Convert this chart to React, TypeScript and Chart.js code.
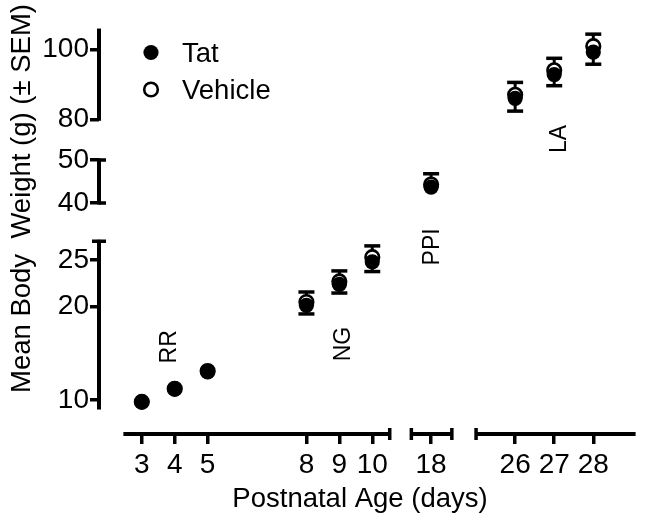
import React, { useEffect, useRef } from 'react';
import { Chart, registerables } from 'chart.js';

Chart.register(...registerables);

// ---------- data ----------
const days = [3, 4, 5, 8, 9, 10, 18, 26, 27, 28];
// which broken-axis segment each day belongs to (0: days 3-10, 1: day 18, 2: days 26-28)
const daySegment = [0, 0, 0, 0, 0, 0, 1, 2, 2, 2];
const tatWeight = [9.8, 11.2, 13.0, 20.15, 22.4, 24.8, 43.7, 86.0, 92.8, 99.2];
const tatSem = [0.3, 0.3, 0.4, 0.93, 0.94, 1.04, 1.2, 3.66, 3.2, 3.46];
const vehicleWeight = [9.8, 11.2, 13.1, 20.5, 22.7, 25.3, 44.3, 87.0, 94.0, 100.9];
const vehicleSem = [0.3, 0.3, 0.4, 1.07, 1.13, 1.21, 2.5, 3.54, 3.43, 3.43];
const seriesNames = ['Tat', 'Vehicle'];

const xTickSets = [[3, 4, 5, 8, 9, 10], [18], [26, 27, 28]];
const yTickSets = [[10, 20, 25], [40, 50], [80, 100]];

const xTitle = 'Postnatal Age (days)';
const yTitle = 'Mean Body  Weight (g) (\u00B1 SEM)';

const annotationTexts = ['RR', 'NG', 'PPI', 'LA'];
const annotationDays = [3.85, 9.14, 18.04, 27.15];
const annotationWeights = [15.7, 16.0, 26.4, 74.4];
const annotationXSeg = [0, 0, 1, 2];
const annotationYSeg = [0, 0, 0, 2];

// ---------- layout / style config ----------
const FONT = "'Liberation Sans', Arial, Helvetica, sans-serif";
const xRanges = [[1.7, 10.862], [17.075, 18.98], [24.675, 29.083]];
const xWeights = [303, 63, 173];
const yRanges = [[6.357, 29.07], [35.58, 54.65], [74.09, 108.37]];
const yWeights = [212, 82, 120];
const xLineSpans = [[2.44, 10.53], [17.4, 18.63], [25.0, 29.083]];
const yLineSpans = [[9.14, 27.0], [40, 50], [80, 105.5]];
// error bar direction per series: Tat shown below, Vehicle shown above
const errDirection = [-1, 1];

export default function App() {
  const ref = useRef<HTMLCanvasElement>(null);

  useEffect(() => {
    document.body.style.margin = '0';
    const canvas = ref.current;
    if (!canvas) return;

    const datasets: any[] = [];
    const series = [
      { name: seriesNames[0], values: tatWeight, sem: tatSem, bg: '#000', border: '#000', r: 7.6, bw: 0 },
      { name: seriesNames[1], values: vehicleWeight, sem: vehicleSem, bg: '#fff', border: '#000', r: 6.8, bw: 2.6 },
    ];
    series.forEach((s, si) => {
      for (let seg = 0; seg < 3; seg++) {
        const idx = days.map((_, i) => i).filter((i) => daySegment[i] === seg);
        datasets.push({
          label: s.name,
          data: idx.map((i) => ({ x: days[i], y: s.values[i] })),
          semValues: idx.map((i) => s.sem[i]),
          errDir: errDirection[si],
          symbolRadius: s.r + s.bw / 2,
          xAxisID: 'x' + seg,
          yAxisID: 'y' + seg,
          pointRadius: s.r,
          pointHoverRadius: s.r,
          pointBackgroundColor: s.bg,
          pointBorderColor: s.border,
          pointBorderWidth: s.bw,
          showLine: false,
        });
      }
    });

    const scales: any = {};
    for (let seg = 0; seg < 3; seg++) {
      scales['x' + seg] = {
        type: 'linear',
        position: 'bottom',
        stack: 'xstack',
        stackWeight: xWeights[seg],
        weight: seg + 1,
        min: xRanges[seg][0],
        max: xRanges[seg][1],
        bounds: 'data',
        afterBuildTicks: (s: any) => {
          s.ticks = xTickSets[seg].map((v) => ({ value: v }));
        },
        afterFit: (s: any) => {
          s.height = 92;
          s.paddingLeft = 0;
          s.paddingRight = 0;
          s.paddingTop = 0;
          s.paddingBottom = 0;
        },
        grid: { display: true, drawOnChartArea: false, drawTicks: true, tickLength: 10, lineWidth: 3.5, color: '#000', tickColor: '#000' },
        border: { display: false },
        ticks: { color: '#000', font: { size: 28, family: FONT }, padding: 4, maxRotation: 0, minRotation: 0, autoSkip: false },
      };
      scales['y' + seg] = {
        type: 'linear',
        position: 'left',
        stack: 'ystack',
        stackWeight: yWeights[seg],
        weight: seg + 1,
        min: yRanges[seg][0],
        max: yRanges[seg][1],
        bounds: 'data',
        afterBuildTicks: (s: any) => {
          s.ticks = yTickSets[seg].map((v) => ({ value: v }));
        },
        afterFit: (s: any) => {
          s.width = 99;
          s.paddingLeft = 0;
          s.paddingRight = 0;
          s.paddingTop = 0;
          s.paddingBottom = 0;
        },
        grid: { display: true, drawOnChartArea: false, drawTicks: true, tickLength: 9, lineWidth: 3.5, color: '#000', tickColor: '#000' },
        border: { display: false },
        ticks: { color: '#000', font: { size: 28, family: FONT }, padding: 1, autoSkip: false },
      };
    }

    const decorations = {
      id: 'decorations',
      beforeDatasetsDraw(chart: any) {
        const ctx = chart.ctx;
        ctx.save();
        ctx.strokeStyle = '#000';
        chart.data.datasets.forEach((ds: any) => {
          const xs = chart.scales[ds.xAxisID];
          const ys = chart.scales[ds.yAxisID];
          ds.data.forEach((p: any, k: number) => {
            const sem = ds.semValues[k];
            const px = xs.getPixelForValue(p.x);
            const pc = ys.getPixelForValue(p.y);
            const pe = ys.getPixelForValue(p.y + ds.errDir * sem);
            // like the original software, bars shorter than the symbol are not shown
            if (Math.abs(pe - pc) <= ds.symbolRadius) return;
            ctx.lineWidth = 3;
            ctx.beginPath();
            ctx.moveTo(px, pc);
            ctx.lineTo(px, pe);
            ctx.stroke();
            ctx.lineWidth = 3.5;
            ctx.beginPath();
            ctx.moveTo(px - 8, pe);
            ctx.lineTo(px + 8, pe);
            ctx.stroke();
          });
        });
        ctx.restore();
      },
      afterDraw(chart: any) {
        const ctx = chart.ctx;
        const area = chart.chartArea;
        ctx.save();
        ctx.strokeStyle = '#000';
        ctx.fillStyle = '#000';
        ctx.lineWidth = 4;
        ctx.lineCap = 'butt';
        // y axis segments
        const ax = area.left;
        for (let seg = 0; seg < 3; seg++) {
          const ys = chart.scales['y' + seg];
          const a = ys.getPixelForValue(yLineSpans[seg][0]);
          const b = ys.getPixelForValue(yLineSpans[seg][1]);
          ctx.beginPath();
          ctx.moveTo(ax, a + 1.5);
          ctx.lineTo(ax, b - 1.5);
          ctx.stroke();
        }
        ctx.lineWidth = 3.5;
        {
          const y0 = chart.scales.y0;
          const y1 = chart.scales.y1;
          const capTop = y0.getPixelForValue(yLineSpans[0][1]);
          ctx.beginPath();
          ctx.moveTo(ax - 7, capTop);
          ctx.lineTo(ax + 7, capTop);
          [yLineSpans[1][0], yLineSpans[1][1]].forEach((v) => {
            const p = y1.getPixelForValue(v);
            ctx.moveTo(ax, p);
            ctx.lineTo(ax + 7, p);
          });
          ctx.stroke();
        }
        // x axis segments
        const ay = area.bottom;
        ctx.lineWidth = 4;
        for (let seg = 0; seg < 3; seg++) {
          const xs = chart.scales['x' + seg];
          const a = xs.getPixelForValue(xLineSpans[seg][0]);
          const b = xs.getPixelForValue(xLineSpans[seg][1]);
          ctx.beginPath();
          ctx.moveTo(a, ay);
          ctx.lineTo(b, ay);
          ctx.stroke();
        }
        ctx.lineWidth = 3.5;
        const caps = [
          chart.scales.x0.getPixelForValue(xLineSpans[0][1]),
          chart.scales.x1.getPixelForValue(xLineSpans[1][0]),
          chart.scales.x1.getPixelForValue(xLineSpans[1][1]),
          chart.scales.x2.getPixelForValue(xLineSpans[2][0]),
        ];
        ctx.beginPath();
        caps.forEach((cx) => {
          ctx.moveTo(cx, ay - 6);
          ctx.lineTo(cx, ay + 6);
        });
        ctx.stroke();

        // axis titles
        ctx.font = `27.5px ${FONT}`;
        ctx.textAlign = 'center';
        ctx.textBaseline = 'alphabetic';
        ctx.fillText(xTitle, 360, 507);
        ctx.save();
        ctx.translate(30, 198.5);
        ctx.rotate(-Math.PI / 2);
        ctx.fillText(yTitle, 0, 0);
        ctx.restore();

        // annotations
        ctx.font = `23px ${FONT}`;
        ctx.textBaseline = 'middle';
        annotationTexts.forEach((t, i) => {
          const px = chart.scales['x' + annotationXSeg[i]].getPixelForValue(annotationDays[i]);
          const py = chart.scales['y' + annotationYSeg[i]].getPixelForValue(annotationWeights[i]);
          ctx.save();
          ctx.translate(px, py);
          ctx.rotate(-Math.PI / 2);
          ctx.fillText(t, 0, 0);
          ctx.restore();
        });

        // legend
        const lx = area.left + 52;
        const rows = [area.top + 32.5, area.top + 69.5];
        series.forEach((s, i) => {
          ctx.beginPath();
          ctx.arc(lx, rows[i], s.r, 0, Math.PI * 2);
          ctx.fillStyle = s.bg;
          ctx.fill();
          if (s.bw > 0) {
            ctx.lineWidth = s.bw;
            ctx.strokeStyle = s.border;
            ctx.stroke();
          }
          ctx.fillStyle = '#000';
          ctx.font = `27.5px ${FONT}`;
          ctx.textAlign = 'left';
          ctx.textBaseline = 'alphabetic';
          ctx.fillText(s.name, lx + 31, rows[i] + 9.5);
        });
        ctx.restore();
      },
    };

    const chart = new Chart(canvas, {
      type: 'scatter',
      data: { datasets },
      options: {
        responsive: false,
        animation: false,
        devicePixelRatio: 1,
        events: [],
        layout: { padding: { top: 20, right: 7, bottom: 0, left: 0 } },
        plugins: { legend: { display: false }, tooltip: { enabled: false }, title: { display: false } },
        scales,
      } as any,
      plugins: [decorations],
    });
    return () => chart.destroy();
  }, []);

  return (
    <canvas
      ref={ref}
      width={645}
      height={526}
      style={{ display: 'block', width: '645px', height: '526px', background: '#fff' }}
    />
  );
}
